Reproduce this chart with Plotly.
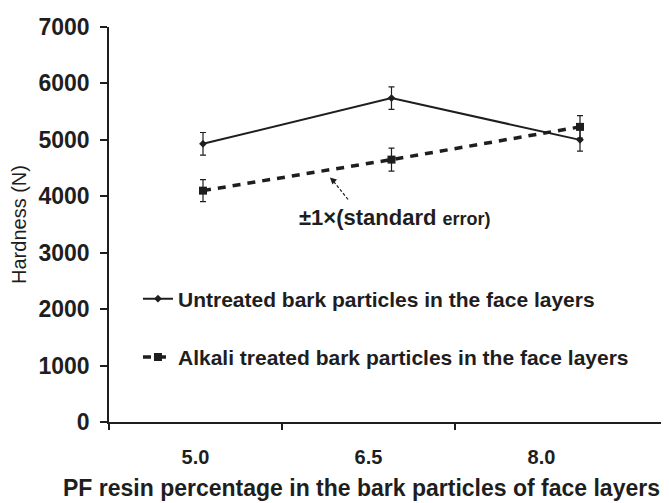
import plotly.graph_objects as go

# data
pf_resin = [5.0, 6.5, 8.0]
tick_labels = ["5.0", "6.5", "8.0"]
untreated = [4930, 5740, 5000]
untreated_se = [200, 200, 200]
alkali = [4100, 4650, 5230]
alkali_se = [195, 205, 200]
y_ticks = [0, 1000, 2000, 3000, 4000, 5000, 6000, 7000]

ink = "#1e1e1e"
font = "Liberation Sans, Arial, sans-serif"

fig = go.Figure()
# empty trace so the labelled category axis gets drawn
fig.add_trace(go.Scatter(x=[0, 1, 2], y=[None, None, None], mode="markers",
                         showlegend=False, hoverinfo="skip"))
fig.add_trace(go.Scatter(
    x=pf_resin, y=untreated, xaxis="x2", mode="lines+markers",
    name="<b>Untreated bark particles in the face layers</b>", legendgroup="a",
    line=dict(color=ink, width=2),
    marker=dict(symbol="diamond", size=6, color=ink),
    error_y=dict(type="data", array=untreated_se, color=ink, thickness=1.2, width=3),
))
fig.add_trace(go.Scatter(
    x=pf_resin, y=alkali, xaxis="x2", mode="lines+markers",
    name="<b>Alkali treated bark particles in the face layers</b>", legendgroup="b",
    line=dict(color=ink, width=3.5, dash="8px,7px"),
    marker=dict(symbol="square", size=8, color=ink),
    error_y=dict(type="data", array=alkali_se, color=ink, thickness=1.2, width=3),
))

# dashed pointer to the error bars
fig.add_shape(type="line", xref="x2", yref="y", x0=6.154, y0=3943, x1=6.03, y1=4290,
              line=dict(color=ink, width=1.2, dash="3px,2px"))
fig.add_annotation(xref="x2", yref="y", x=6.01, y=4334, ax=6.04, ay=4270,
                   axref="x2", ayref="y", text="", showarrow=True,
                   arrowhead=2, arrowsize=1.1, arrowwidth=1.2, arrowcolor=ink)
fig.add_annotation(xref="x2", yref="y", x=6.53, y=3620, showarrow=False,
                   text="<b>±1×(standard <span style='font-size:18px'>error)</span></b>",
                   font=dict(size=22, color=ink, family=font))

# x axis title, placed as in the original (not centred on the clipped axis)
fig.add_annotation(xref="paper", yref="paper", x=0.444, y=-0.168,
                   xanchor="center", yanchor="middle", showarrow=False,
                   text="<b>PF resin percentage in the bark particles of face layers</b>",
                   font=dict(size=23, color=ink, family=font))

fig.update_layout(
    width=669, height=503,
    margin=dict(l=101, r=0, t=19, b=89),
    paper_bgcolor="white", plot_bgcolor="white",
    font=dict(family=font, color=ink),
    showlegend=True,
    legend=dict(x=0.051, y=0.238, xanchor="left", yanchor="middle",
                font=dict(size=21, color=ink, family=font),
                bgcolor="rgba(0,0,0,0)", tracegroupgap=28, itemwidth=30),
    xaxis=dict(
        range=[-0.5, 2.783], tickvals=[0, 1, 2],
        ticktext=[f"<b>{t}</b>" for t in tick_labels],
        ticks="", showgrid=False, zeroline=False, automargin=False,
        showline=True, linecolor=ink, linewidth=1.5,
        tickfont=dict(size=20, color=ink), ticklabelstandoff=16,
        minor=dict(tickvals=[-0.5, 0.5, 1.5], ticks="outside", ticklen=6,
                   tickcolor=ink, tickwidth=1.5, showgrid=False),
    ),
    xaxis2=dict(overlaying="x", range=[4.252, 8.772], visible=False),
    yaxis=dict(
        range=[0, 7000], tickvals=y_ticks,
        ticktext=[f"<b>{v}</b>" for v in y_ticks],
        ticks="outside", ticklen=7, tickcolor=ink, tickwidth=1.5,
        showgrid=False, zeroline=False, automargin=False,
        showline=True, linecolor=ink, linewidth=1.5,
        tickfont=dict(size=23, color=ink), ticklabelstandoff=6,
        title=dict(text="Hardness (N)", font=dict(size=20, color=ink), standoff=6),
    ),
)

fig.write_html("out.html")
